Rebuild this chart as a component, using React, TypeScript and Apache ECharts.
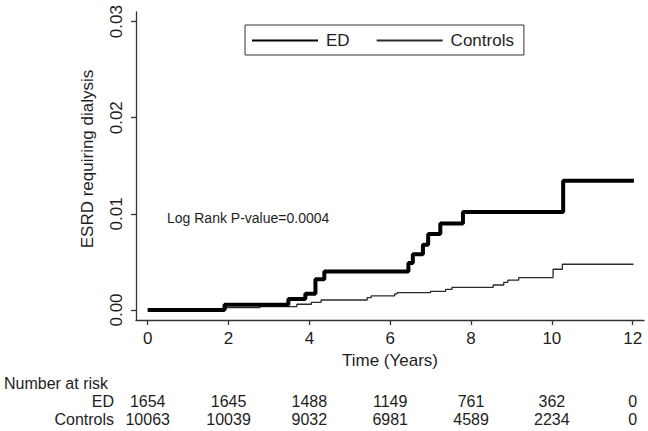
import React, { useEffect, useRef } from "react";
import * as echarts from "echarts";

const tickYears = [0, 2, 4, 6, 8, 10, 12];
const yTicks = [0, 0.01, 0.02, 0.03];
const seriesNames = ["ED", "Controls"];

const edTimes = [0, 1.9, 3.48, 3.9, 4.15, 4.37, 6.45, 6.56, 6.81, 6.94, 7.24, 7.8, 10.28, 12.03];
const edValues = [0, 0.00055, 0.00115, 0.0017, 0.0032, 0.004, 0.0049, 0.0058, 0.0068, 0.0079, 0.009, 0.0102, 0.01345, 0.01345];

const controlsTimes = [0, 1.49, 1.95, 2.78, 3.69, 4.05, 4.29, 5.43, 5.53, 6.11, 6.17, 7.0, 7.37, 7.53, 8.55, 8.81, 8.91, 9.18, 10.03, 10.26, 12.02];
const controlsValues = [0, 0.00015, 0.00025, 0.00035, 0.0006, 0.0008, 0.00104, 0.00128, 0.00146, 0.00167, 0.0018, 0.00194, 0.00215, 0.00236, 0.0026, 0.00288, 0.0031, 0.00337, 0.00424, 0.00476, 0.00476];

const riskED = [1654, 1645, 1488, 1149, 761, 362, 0];
const riskControls = [10063, 10039, 9032, 6981, 4589, 2234, 0];

const FONT = "'Liberation Sans', Arial, sans-serif";
const TXT = "#1e1e1e";
const AX = "#333";

export default function App() {
  const ref = useRef<HTMLDivElement>(null);
  useEffect(() => {
    if (!ref.current) return;
    const chart = echarts.init(ref.current, null, { renderer: "svg" });
    const xMin = -0.29;
    const xMax = 12.28;
    const riskAxis = (vals: number[], offset: number) => ({
      type: "value",
      gridIndex: 0,
      position: "bottom",
      offset,
      min: xMin,
      max: xMax,
      axisLine: { show: false },
      axisTick: { show: false },
      splitLine: { show: false },
      axisLabel: {
        customValues: tickYears,
        margin: 0,
        verticalAlign: "middle",
        fontSize: 16,
        lineHeight: 16,
        fontFamily: FONT,
        color: TXT,
        formatter: (v: number) => {
          const i = tickYears.findIndex((t) => Math.abs(t - v) < 1e-6);
          return i >= 0 ? String(vals[i]) : "";
        },
      },
    });
    chart.setOption({
      animation: false,
      backgroundColor: "#fff",
      textStyle: { fontFamily: FONT },
      grid: { left: 136, right: 4, top: 12, bottom: 111, outerBoundsMode: "none", containLabel: false },
      legend: {
        data: seriesNames,
        left: 245,
        top: 25,
        orient: "horizontal",
        itemWidth: 66,
        itemHeight: 14,
        itemGap: 26,
        padding: [7, 10, 6, 6],
        borderColor: AX,
        borderWidth: 1,
        backgroundColor: "#fff",
        itemStyle: { opacity: 0, borderWidth: 0 },
        textStyle: { fontSize: 17, color: TXT, fontFamily: FONT, padding: [0, 0, 0, 3] },
      },
      xAxis: [
        {
          type: "value",
          min: xMin,
          max: xMax,
          name: "Time (Years)",
          nameLocation: "middle",
          nameGap: 23,
          nameTextStyle: { fontSize: 17, color: TXT, fontFamily: FONT },
          axisLine: { show: true, onZero: false, lineStyle: { color: AX, width: 1.3 } },
          axisTick: { show: true, customValues: tickYears, length: 5, lineStyle: { color: AX, width: 1.3 } },
          axisLabel: { customValues: tickYears, margin: 10, fontSize: 17, color: TXT, fontFamily: FONT },
          splitLine: { show: false },
        },
        riskAxis(riskED, 81),
        riskAxis(riskControls, 99),
      ],
      yAxis: {
        type: "value",
        min: -0.00104,
        max: 0.031,
        name: "ESRD requiring dialysis",
        nameLocation: "middle",
        nameGap: 40,
        nameTextStyle: { fontSize: 17, color: TXT, fontFamily: FONT, padding: [0, 0, 0, 14] },
        axisLine: { show: true, onZero: false, lineStyle: { color: AX, width: 1.3 } },
        axisTick: { show: true, customValues: yTicks, length: 5, lineStyle: { color: AX, width: 1.3 } },
        axisLabel: {
          customValues: yTicks,
          rotate: 90,
          margin: 11,
          fontSize: 17,
          color: TXT,
          fontFamily: FONT,
          formatter: (v: number) => v.toFixed(2),
        },
        splitLine: { show: false },
      },
      graphic: [
        {
          type: "text",
          x: 167,
          y: 218,
          style: { text: "Log Rank P-value=0.0004", font: `14px ${FONT}`, fill: TXT, align: "left", verticalAlign: "middle" },
        },
        {
          type: "text",
          x: 4,
          y: 383,
          style: { text: "Number at risk", font: `16px ${FONT}`, fill: TXT, align: "left", verticalAlign: "middle", lineHeight: 16 },
        },
        {
          type: "text",
          x: 114,
          y: 401,
          style: { text: seriesNames[0], font: `16px ${FONT}`, fill: TXT, align: "right", verticalAlign: "middle", lineHeight: 16 },
        },
        {
          type: "text",
          x: 114,
          y: 419,
          style: { text: seriesNames[1], font: `16px ${FONT}`, fill: TXT, align: "right", verticalAlign: "middle", lineHeight: 16 },
        },
      ],
      series: [
        {
          name: seriesNames[1],
          type: "line",
          step: "end",
          symbol: "none",
          data: controlsTimes.map((t, i) => [t, controlsValues[i]]),
          lineStyle: { color: "#2a2a2a", width: 1.3 },
          itemStyle: { color: "#2a2a2a" },
          z: 2,
        },
        {
          name: seriesNames[0],
          type: "line",
          step: "end",
          symbol: "none",
          data: edTimes.map((t, i) => [t, edValues[i]]),
          lineStyle: { color: "#000", width: 4 },
          itemStyle: { color: "#000" },
          z: 3,
        },
      ],
    });
    return () => chart.dispose();
  }, []);
  return (
    <div
      ref={ref}
      style={{ position: "fixed", left: 0, top: 0, width: 648, height: 431, background: "#fff" }}
    />
  );
}
